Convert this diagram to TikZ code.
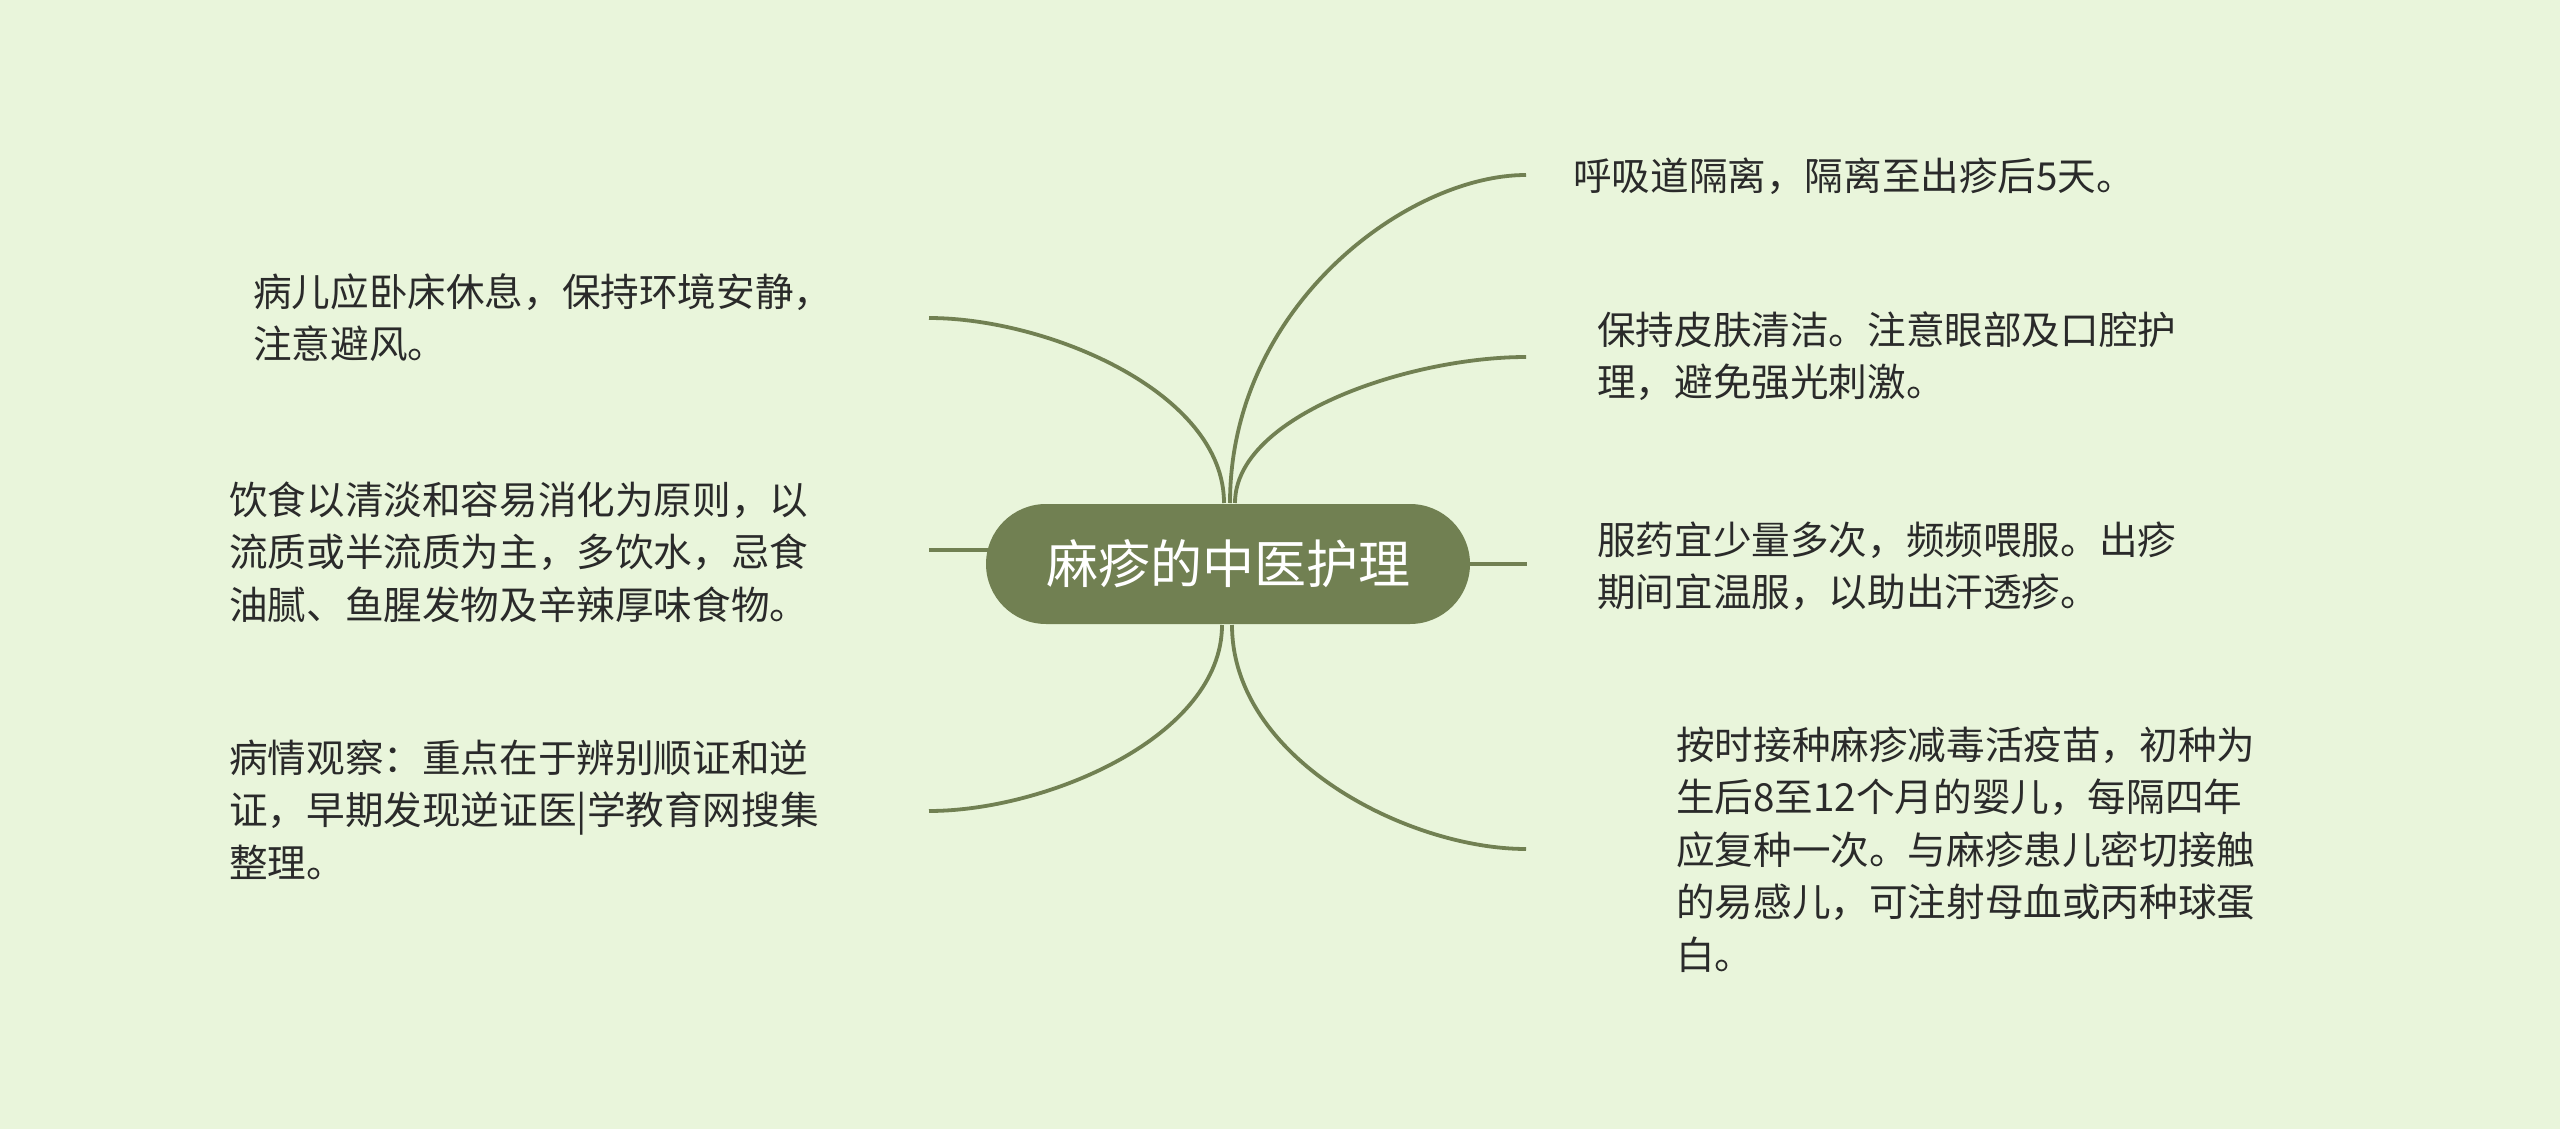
\documentclass[tikz,border=0pt]{standalone}
\usepackage{fontspec}
\setmainfont{Noto Sans CJK SC}
\usetikzlibrary{calc,backgrounds}
\definecolor{bgc}{HTML}{E9F5DB}
\definecolor{olivec}{HTML}{718052}
\definecolor{txtc}{HTML}{2A2A2A}
\tikzset{
  topic/.style={fill=olivec, text=white, rounded corners=60pt, minimum width=484pt,
    minimum height=120pt, inner sep=0pt, font=\fontsize{52}{60}\selectfont,
    text height=43pt, text depth=4pt},
  leaf/.style={anchor=base west, inner sep=0pt, text=txtc},
  branch/.style={draw=olivec, line width=3.8pt},
}
\newcommand{\leaftext}[1]{\parbox[t]{760pt}{\fontsize{38.6}{52.5}\selectfont\raggedright #1}}
\newcommand{\curvebranch}[3]{\draw[branch] (#1) .. controls ($(#1)!0.6!(#3)$) and ($(#3)!0.6!(#2)$) .. (#2);}
\begin{document}
\begin{tikzpicture}[x=1pt,y=-1pt]
\useasboundingbox (0,0) rectangle (2560,1129);

% central topic
\node[topic] (c) at (1228,564) {麻疹的中医护理};

% leaf texts
\node[leaf] (r1) at (1573,190) {\leaftext{呼吸道隔离，隔离至出疹后5天。}};
\node[leaf] (r2) at (1597,344) {\leaftext{保持皮肤清洁。注意眼部及口腔护\\理，避免强光刺激。}};
\node[leaf] (r3) at (1597,554) {\leaftext{服药宜少量多次，频频喂服。出疹\\期间宜温服，以助出汗透疹。}};
\node[leaf] (r4) at (1676,759) {\leaftext{按时接种麻疹减毒活疫苗，初种为\\生后8至12个月的婴儿，每隔四年\\应复种一次。与麻疹患儿密切接触\\的易感儿，可注射母血或丙种球蛋\\白。}};
\node[leaf] (l1) at (253,306) {\leaftext{病儿应卧床休息，保持环境安静，\\注意避风。}};
\node[leaf] (l2) at (229,514) {\leaftext{饮食以清淡和容易消化为原则，以\\流质或半流质为主，多饮水，忌食\\油腻、鱼腥发物及辛辣厚味食物。}};
\node[leaf] (l3) at (229,772) {\leaftext{病情观察：重点在于辨别顺证和逆\\证，早期发现逆证医|学教育网搜集\\整理。}};

% connector end points
\coordinate (e1) at (1526,175);
\coordinate (e2) at (1526,357);
\coordinate (e3) at (1527,564);
\coordinate (e4) at (1526,849);
\coordinate (f1) at (929,318);
\coordinate (f2) at (929,550);
\coordinate (f3) at (929,811);

% connector start points on the central topic
\coordinate (s1) at (1230,503);
\coordinate (s2) at (1235,503);
\coordinate (s4) at (1232,625);
\coordinate (t1) at (1224,503);
\coordinate (t3) at (1222,625);

% corners used for the curve controls
\coordinate (k1) at (s1 |- e1);
\coordinate (k2) at (s2 |- e2);
\coordinate (k4) at (s4 |- e4);
\coordinate (h1) at (t1 |- f1);
\coordinate (h3) at (t3 |- f3);

\begin{pgfonlayer}{background}
  \fill[bgc] (0,0) rectangle (2560,1129);
  \curvebranch{s1}{e1}{k1}
  \curvebranch{s2}{e2}{k2}
  \draw[branch] (c.center |- e3) -- (e3);
  \curvebranch{s4}{e4}{k4}
  \curvebranch{t1}{f1}{h1}
  \draw[branch] (c.center |- f2) -- (f2);
  \curvebranch{t3}{f3}{h3}
\end{pgfonlayer}
\end{tikzpicture}
\end{document}
